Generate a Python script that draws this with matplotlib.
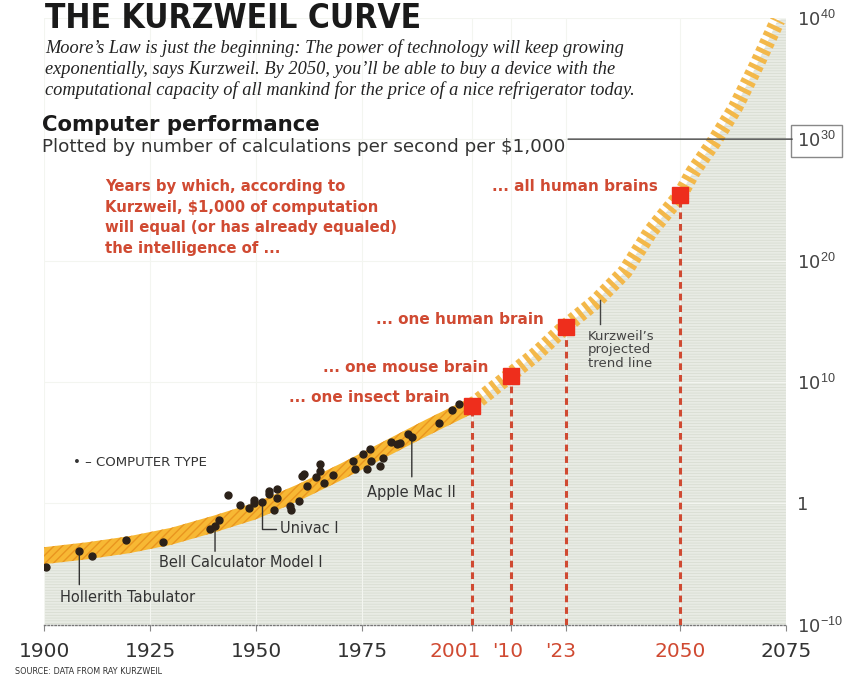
import matplotlib
matplotlib.use("Agg")
import matplotlib.pyplot as plt
import matplotlib.transforms as mtransforms
import numpy as np

# band centre, as log10(calculations per second per $1,000)
hist_years = [1900, 1910, 1920, 1930, 1940, 1950, 1960, 1970, 1980, 1990, 2001]
hist_log = [-4.3, -3.9, -3.4, -2.7, -1.7, -0.6, 0.9, 2.6, 4.4, 6.2, 8.1]
proj_years = [2001, 2010, 2016, 2023, 2030, 2037, 2043, 2050, 2053, 2058, 2063, 2068, 2073]
proj_log = [8.1, 10.6, 12.3, 14.6, 16.6, 19.1, 22.4, 25.4, 27.3, 29.8, 32.6, 36.1, 39.8]

# individual computers (black dots)
comp_years = [1900.4, 1908.3, 1911.4, 1919.3, 1928.1, 1939.2, 1940.3, 1941.3, 1943.3, 1946.1,
              1948.2, 1949.4, 1949.4, 1951.3, 1953.1, 1953.1, 1954.9, 1955.0, 1954.2, 1958.0,
              1958.3, 1960.2, 1960.8, 1961.3, 1962.0, 1964.1, 1965.1, 1965.1, 1966.0, 1968.0,
              1972.9, 1973.3, 1975.1, 1976.9, 1976.1, 1977.1, 1979.1, 1980.0, 1981.8, 1983.2,
              1984.0, 1985.9, 1986.7, 1993.0, 1996.2, 1997.9]
comp_log = [-5.26, -3.94, -4.30, -3.0, -3.2, -2.09, -1.88, -1.38, 0.72, -0.11,
            -0.41, 0.25, 0.0, 0.11, 1.02, 0.80, 1.21, 0.47, -0.50, -0.17,
            -0.50, 0.17, 2.26, 2.42, 1.43, 2.20, 3.25, 2.67, 1.71, 2.34,
            3.50, 2.87, 4.05, 4.46, 2.87, 3.50, 3.09, 3.78, 5.10, 4.93,
            5.02, 5.70, 5.51, 6.59, 7.71, 8.16]

named_labels = ["Hollerith Tabulator", "Bell Calculator Model I", "Univac I", "Apple Mac II"]
named_years = [1908.3, 1940.3, 1951.3, 1986.7]
named_log = [-3.94, -1.88, 0.11, 5.51]

milestone_years = [2001, 2010, 2023, 2050]
milestone_log = [8.0, 10.5, 14.5, 25.4]
milestone_labels = ["... one insect brain", "... one mouse brain",
                    "... one human brain", "... all human brains"]

xticks = [1900, 1925, 1950, 1975, 2001, 2010, 2023, 2050, 2075]
xtick_labels = ["1900", "1925", "1950", "1975", "2001", "'10", "'23", "2050", "2075"]
ytick_exp = [-10, 0, 10, 20, 30, 40]
ytick_labels = ["10$^{-10}$", "1", "10$^{10}$", "10$^{20}$", "10$^{30}$", "10$^{40}$"]

RED = "#d04a32"

plt.rcParams["mathtext.fontset"] = "custom"
plt.rcParams["mathtext.rm"] = "Liberation Sans"
plt.rcParams["hatch.linewidth"] = 0.5


def fpos(x, y):
    return x / 865, 1 - y / 680


fig = plt.figure(figsize=(8.65, 6.8), dpi=100)
ax = fig.add_axes([0.051, 0.081, 0.858, 0.893])

hy = np.array(hist_years, dtype=float)
hv = 10.0 ** np.array(hist_log)
py = np.array(proj_years, dtype=float)
pv = 10.0 ** np.array(proj_log)

# grey area under the curve
all_years = np.concatenate([hy, py[1:], [2075]])
all_vals = np.concatenate([hv, pv[1:], [1e40]])
ax.fill_between(all_years, 1e-10, all_vals, facecolor="#e8ebe4", edgecolor="#d6dbcf",
                hatch="------", linewidth=0, zorder=0.2)
ax.set_axisbelow(True)
ax.grid(True, color="#f3f5f0", lw=0.8)

# historic band (solid, hatched)
plt.rcParams["hatch.linewidth"] = 1.0
ax.fill_between(hy, 10.0 ** (np.array(hist_log) - 0.7), 10.0 ** (np.array(hist_log) + 0.7),
                facecolor="#f7b834", edgecolor="#e9951f", hatch="////", linewidth=0, zorder=2)
# projected band (striped)
ax.plot(py, pv, color="#f3b84a", lw=11, dashes=(0.3, 0.27), solid_capstyle="butt",
        dash_capstyle="butt", zorder=2)

ax.plot(comp_years, 10.0 ** np.array(comp_log), "o", color="#2b2119", ms=5, zorder=4)

# milestones
mv = 10.0 ** np.array(milestone_log)
ax.vlines(milestone_years, 1e-10, mv, colors=RED, lw=2.2, linestyles=(0, (2.2, 1.6)), zorder=3)
ax.plot(milestone_years, mv, "s", color="#ee2e1c", ms=11, zorder=5)
for yr, v, lab in zip(milestone_years, mv, milestone_labels):
    ax.annotate(lab, xy=(yr, v), xytext=(-16, 6), textcoords="offset points",
                ha="right", va="center", color=RED, fontsize=11, fontweight="bold")

# named computers with leader lines (offsets in points)
leaders = [(-14, -33, 24), (-40, -26, 18), (13, -19, 0), (0, -40, 29)]
for lab, yr, lg, (dx, dy, lead) in zip(named_labels, named_years, named_log, leaders):
    xy = (yr, 10.0 ** lg)
    if lab == "Univac I":
        ax.annotate(lab, xy=xy, xytext=(dx, dy), textcoords="offset points",
                    ha="left", va="center", fontsize=10.5, color="#333",
                    arrowprops=dict(arrowstyle="-", color="#333", lw=1, shrinkA=1, shrinkB=3,
                                    connectionstyle="angle,angleA=0,angleB=90,rad=0"))
        continue
    ax.annotate("", xy=xy, xytext=(0, -lead), textcoords="offset points",
                arrowprops=dict(arrowstyle="-", color="#333", lw=1, shrinkA=0, shrinkB=3))
    ax.annotate(lab, xy=xy, xytext=(dx, dy), textcoords="offset points",
                ha="center" if lab == "Apple Mac II" else "left", va="center",
                fontsize=10.5, color="#333")

ax.set_xlim(1900, 2075)
ax.set_yscale("log")
ax.set_ylim(1e-10, 1e40)

ax.set_xticks(xticks)
ax.set_xticklabels(xtick_labels, fontsize=14.5)
ax.tick_params(axis="x", length=4, color="#888", pad=8)
label_shift = {"2001": -17, "'10": -3, "'23": -5}
for t, lab in zip(ax.get_xticklabels(), xtick_labels):
    t.set_color(RED if lab in ("2001", "'10", "'23", "2050") else "#333")
    if lab in label_shift:
        t.set_transform(t.get_transform() + mtransforms.ScaledTranslation(
            label_shift[lab] / 100, 0, fig.dpi_scale_trans))

ax.yaxis.tick_right()
ax.set_yticks([10.0 ** e for e in ytick_exp])
ax.set_yticklabels(ytick_labels, fontsize=13, color="#444")
ax.yaxis.set_minor_locator(matplotlib.ticker.NullLocator())
ax.tick_params(axis="y", length=0, pad=8)
ax.get_yticklabels()[4].set_bbox(dict(facecolor="none", edgecolor="#888",
                                      boxstyle="square,pad=0.35", lw=1))

for s in ["top", "left", "right"]:
    ax.spines[s].set_visible(False)
ax.spines["bottom"].set_linestyle((0, (1, 1.5)))
ax.spines["bottom"].set_color("#777")
ax.spines["bottom"].set_linewidth(1)

# leader line from the subtitle to the 10^30 box
ax.annotate("", xy=(1.008, 1e30), xycoords=("axes fraction", "data"),
            xytext=(0.706, 1e30), textcoords=("axes fraction", "data"),
            arrowprops=dict(arrowstyle="-", color="#444", lw=1, shrinkA=0, shrinkB=0))

# headings
fig.text(*fpos(45, 18), "THE KURZWEIL CURVE", va="center", ha="left",
         fontsize=24, fontweight="heavy", fontstretch="condensed", color="#1a1a1a")
sub = ["Moore\u2019s Law is just the beginning: The power of technology will keep growing",
       "exponentially, says Kurzweil. By 2050, you\u2019ll be able to buy a device with the",
       "computational capacity of all mankind for the price of a nice refrigerator today."]
for i, line in enumerate(sub):
    fig.text(*fpos(45, 48 + 21 * i), line, va="center", ha="left", fontsize=13.2,
             family="Liberation Serif", style="italic", color="#222")

fig.text(*fpos(42, 125), "Computer performance", va="center", fontsize=15.3,
         fontweight="bold", color="#1a1a1a")
fig.text(*fpos(42, 147), "Plotted by number of calculations per second per $1,000",
         va="center", fontsize=13.2, color="#333")

red_note = ["Years by which, according to", "Kurzweil, $1,000 of computation",
            "will equal (or has already equaled)", "the intelligence of ..."]
for i, line in enumerate(red_note):
    fig.text(*fpos(105, 187 + 20.5 * i), line, va="center", fontsize=10.7,
             fontweight="bold", color=RED)

fig.text(*fpos(588, 350), "Kurzweil\u2019s\nprojected\ntrend line", va="center",
         fontsize=9.5, color="#444", linespacing=1.05)
fig.add_artist(plt.Line2D([600 / 865] * 2, [1 - 300 / 680, 1 - 324 / 680],
                          transform=fig.transFigure, color="#444", lw=1))

fig.text(*fpos(73, 462), "\u2022 \u2013 COMPUTER TYPE", va="center", fontsize=9.5,
         color="#333")
fig.text(*fpos(15, 672), "SOURCE: DATA FROM RAY KURZWEIL", va="center", fontsize=6.5,
         fontstretch="condensed", color="#333")

fig.savefig("out.png", dpi=100)
